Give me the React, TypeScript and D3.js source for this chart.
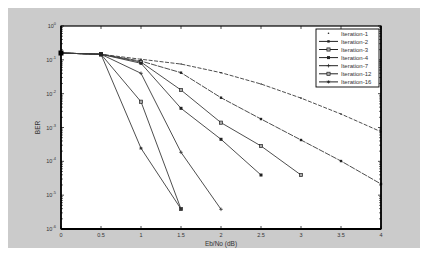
import React from "react";
import * as d3 from "d3";

const ebno = [0, 0.5, 1, 1.5, 2, 2.5, 3, 3.5, 4];
const seriesNames = ["Iteration-1", "Iteration-2", "Iteration-3", "Iteration-4", "Iteration-7", "Iteration-12", "Iteration-16"];
const iter1 = [0.159, 0.146, 0.104, 0.075, 0.0417, 0.0193, 0.0074, 0.0025, 0.00075];
const iter2 = [0.159, 0.146, 0.092, 0.0417, 0.0076, 0.00178, 0.000427, 0.000102, 0.0000214];
const iter3 = [0.159, 0.146, 0.086, 0.0128, 0.00139, 0.000284, 0.0000394];
const iter4 = [0.159, 0.146, 0.079, 0.00369, 0.000448, 0.0000394];
const iter7 = [0.159, 0.146, 0.04, 0.000185, 0.00000382];
const iter12 = [0.159, 0.146, 0.00578, 0.0000039];
const iter16 = [0.159, 0.146, 0.000243, 0.0000039];
const xTicks = [0, 0.5, 1, 1.5, 2, 2.5, 3, 3.5, 4];
const xTickLabels = ["0", "0.5", "1", "1.5", "2", "2.5", "3", "3.5", "4"];
const yExps = [0, -1, -2, -3, -4, -5, -6];

const allSeries = [iter1, iter2, iter3, iter4, iter7, iter12, iter16];
const markers = ["dot", "fsq", "osq", "tri", "plus", "osq", "star"];

const M = { left: 61, right: 381, top: 26, bottom: 229 };

function Marker({ type, x, y }: { type: string; x: number; y: number }) {
  const c = "#222";
  if (type === "dot") return <circle cx={x} cy={y} r={0.8} fill={c} />;
  if (type === "fsq") return <rect x={x - 1.2} y={y - 1.2} width={2.4} height={2.4} fill={c} />;
  if (type === "osq") return <rect x={x - 1.6} y={y - 1.6} width={3.2} height={3.2} fill="#aaa" stroke={c} strokeWidth={0.7} />;
  if (type === "tri") return <rect x={x - 1.5} y={y - 1.5} width={3} height={3} fill={c} />;
  if (type === "plus")
    return (
      <g stroke={c} strokeWidth={0.7}>
        <line x1={x - 1.8} x2={x + 1.8} y1={y} y2={y} />
        <line x1={x} x2={x} y1={y - 1.8} y2={y + 1.8} />
      </g>
    );
  return (
    <g stroke={c} strokeWidth={0.7}>
      <line x1={x - 1.6} x2={x + 1.6} y1={y} y2={y} />
      <line x1={x} x2={x} y1={y - 1.6} y2={y + 1.6} />
      <line x1={x - 1.2} x2={x + 1.2} y1={y - 1.2} y2={y + 1.2} />
      <line x1={x - 1.2} x2={x + 1.2} y1={y + 1.2} y2={y - 1.2} />
    </g>
  );
}

export default function App() {
  const x = d3.scaleLinear().domain([0, 4]).range([M.left, M.right]);
  const y = d3.scaleLog().domain([1, 1e-6]).range([M.top, M.bottom]);
  const line = d3
    .line<number>()
    .x((_, i) => x(ebno[i]))
    .y((d) => y(d));

  const minor: number[] = [];
  for (let e = -6; e < 0; e++) {
    for (let k = 2; k <= 9; k++) minor.push(k * Math.pow(10, e));
  }

  const font = "'Liberation Sans', Arial, sans-serif";
  const legX = 316, legY = 29, legW = 63, legH = 58;

  return (
    <svg width={427} height={258} style={{ position: "absolute", left: 0, top: 0 }} fontFamily={font}>
      <rect x={8} y={8} width={412} height={240} fill="#cbcbcb" />
      <rect x={M.left} y={M.top} width={M.right - M.left} height={M.bottom - M.top} fill="#fff" />
      {/* ticks */}
      <g stroke="#000" strokeWidth={0.7}>
        {xTicks.map((t) => (
          <g key={"xt" + t}>
            <line x1={x(t)} x2={x(t)} y1={M.bottom} y2={M.bottom - 3} />
            <line x1={x(t)} x2={x(t)} y1={M.top} y2={M.top + 3} />
          </g>
        ))}
        {yExps.map((e) => (
          <g key={"yt" + e}>
            <line x1={M.left} x2={M.left + 3} y1={y(Math.pow(10, e))} y2={y(Math.pow(10, e))} />
            <line x1={M.right} x2={M.right - 3} y1={y(Math.pow(10, e))} y2={y(Math.pow(10, e))} />
          </g>
        ))}
        {minor.map((m, i) => (
          <g key={"mn" + i}>
            <line x1={M.left} x2={M.left + 1.8} y1={y(m)} y2={y(m)} />
            <line x1={M.right} x2={M.right - 1.8} y1={y(m)} y2={y(m)} />
          </g>
        ))}
      </g>
      {/* series */}
      {allSeries.map((s, si) => (
        <g key={"s" + si}>
          <path
            d={line(s) || ""}
            fill="none"
            stroke="#3a3a3a"
            strokeWidth={0.9}
            strokeDasharray={si === 0 ? "4,1.5" : si === 1 ? "6,1" : undefined}
          />
          {s.map((v, i) => (
            <Marker key={i} type={markers[si]} x={x(ebno[i])} y={y(v)} />
          ))}
        </g>
      ))}
      {/* start marker */}
      <rect x={x(0) - 2.5} y={y(iter1[0]) - 2.5} width={5} height={5} fill="#000" />
      <rect x={x(0.5) - 2} y={y(iter1[1]) - 2} width={4} height={4} fill="#222" />
      {/* axes border */}
      <rect x={M.left} y={M.top} width={M.right - M.left} height={M.bottom - M.top} fill="none" stroke="#000" strokeWidth={1.2} />
      <line x1={M.left} x2={M.right} y1={M.bottom} y2={M.bottom} stroke="#000" strokeWidth={2} />
      <line x1={M.left} x2={M.left} y1={M.top} y2={M.bottom} stroke="#000" strokeWidth={1.6} />
      <line x1={M.right} x2={M.right} y1={M.top} y2={M.bottom} stroke="#000" strokeWidth={1.6} />
      {/* x tick labels */}
      {xTicks.map((t, i) => (
        <text key={"xl" + t} x={x(t)} y={M.bottom + 8} fontSize={5.5} textAnchor="middle" fill="#333">
          {xTickLabels[i]}
        </text>
      ))}
      {/* y tick labels */}
      {yExps.map((e) => (
        <text key={"yl" + e} x={M.left - 5} y={y(Math.pow(10, e)) + 2} fontSize={5.5} textAnchor="end" fill="#333">
          10
          <tspan fontSize={4} dy={-3}>
            {String(e)}
          </tspan>
        </text>
      ))}
      <text x={(M.left + M.right) / 2} y={246} fontSize={6.5} textAnchor="middle" fill="#333">
        Eb/No (dB)
      </text>
      <text transform={`translate(40,${(M.top + M.bottom) / 2}) rotate(-90)`} fontSize={6.5} textAnchor="middle" fill="#333">
        BER
      </text>
      {/* legend */}
      <rect x={legX} y={legY} width={legW} height={legH} fill="#fff" stroke="#000" strokeWidth={0.9} />
      {seriesNames.map((n, i) => {
        const ly = legY + 4.3 + i * 8.1;
        return (
          <g key={"lg" + i}>
            {i > 0 && <line x1={legX + 3} x2={legX + 22} y1={ly} y2={ly} stroke="#222" strokeWidth={1} />}
            <Marker type={markers[i]} x={legX + 12.5} y={ly} />
            <text x={legX + 25} y={ly + 2.2} fontSize={6} fill="#333">
              {n}
            </text>
          </g>
        );
      })}
    </svg>
  );
}
